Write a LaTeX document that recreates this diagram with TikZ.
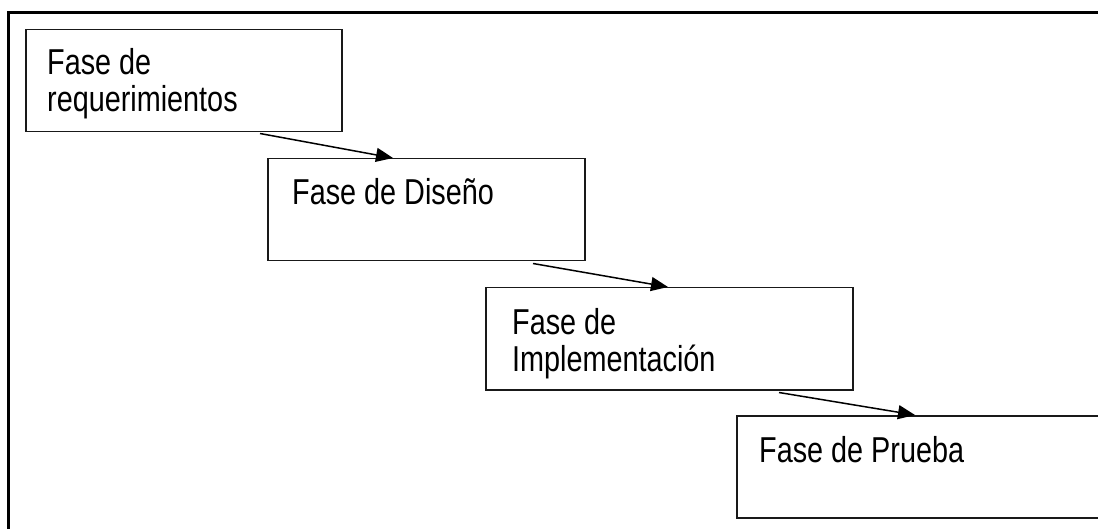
\documentclass[tikz,border=0pt]{standalone}
\usepackage{fontspec}
\usetikzlibrary{arrows.meta,calc}
\newfontfamily\phasefont[FakeStretch=0.8]{Liberation Sans}
\begin{document}
\begin{tikzpicture}[x=1pt,y=-1pt,
  frame/.style={line width=2.6pt,black},
  phase/.style={draw=black!90,line width=1.5pt,rectangle,inner sep=0pt,
    minimum width=#1,minimum height=102pt,anchor=north west},
  phase/.default=317pt,
  lbl/.style={inner sep=0pt,anchor=north west,align=left,
    font=\fontsize{36}{37}\selectfont\phasefont},
  flow/.style={line width=1.5pt,-{Triangle[length=17pt,width=14pt]}}]
\useasboundingbox (0,0) rectangle (1098,529);
\clip (0,0) rectangle (1098,529);

% page frame: only the top and left rules are in view
\draw[frame] (8.5,535) -- (8.5,12.5) -- (1105,12.5);

% the four phases, stepping down to the right
\node[phase=316pt] (req) at (25,29) {};
\node[phase=317pt] (dis) at (267,158) {};
\node[phase=367pt] (imp) at (485,287) {};
\node[phase=400pt] (pru) at (736,415) {};

\node[lbl] (reqt) at ($(req.north west)+(22,19)$) {Fase de\\requerimientos};
\node[lbl] (dist) at ($(dis.north west)+(25,20)$) {Fase de Diseño};
\node[lbl] (impt) at ($(imp.north west)+(27,21)$) {Fase de\\Implementación};
\node[lbl] (prut) at ($(pru.north west)+(23,21)$) {Fase de Prueba};

% hand-over from each phase to the next
\draw[flow] ($(req.south west)+(235,1)$) -- ($(dis.north west)+(126,0)$);
\draw[flow] ($(dis.south west)+(266,2)$) -- ($(imp.north west)+(183,0)$);
\draw[flow] ($(imp.south west)+(294,2)$) -- ($(pru.north west)+(179,0)$);
\end{tikzpicture}
\end{document}
